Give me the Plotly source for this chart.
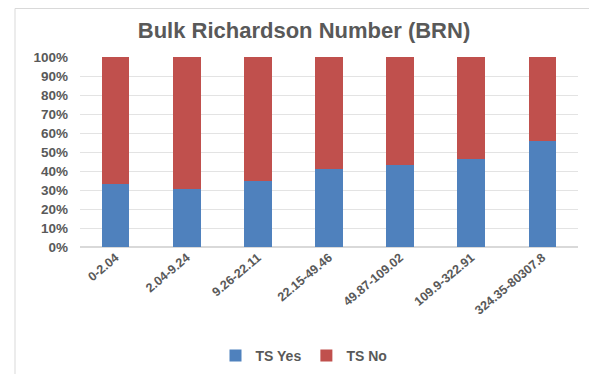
import plotly.graph_objects as go

categories = ["0-2.04", "2.04-9.24", "9.26-22.11", "22.15-49.46",
              "49.87-109.02", "109.9-322.91", "324.35-80307.8"]
ts_yes = [33.2, 30.4, 34.9, 41.0, 43.0, 46.3, 55.8]
ts_no = [66.8, 69.6, 65.1, 59.0, 57.0, 53.7, 44.2]
y_ticks = [0, 10, 20, 30, 40, 50, 60, 70, 80, 90, 100]

# page body has an 8px margin: screen pixel = figure pixel + 8
OFF = 8
W, H = 597, 374
PL, PR, PT, PB = 80, 578, 57, 247          # plot area in screen pixels
L, T = PL - OFF, PT - OFF
R, B = W - (PR - OFF), H - (PB - OFF)
pw, ph = W - L - R, H - T - B

def px_x(p):
    return (p - OFF - L) / pw

def px_y(p):
    return (H - B - (p - OFF)) / ph

gray = "#595959"
font_family = "Liberation Sans, Arial, sans-serif"

fig = go.Figure()
fig.add_trace(go.Bar(name="<b>TS Yes</b>", x=categories, y=ts_yes, marker_color="#4F81BD",
                     marker_line_width=0))
fig.add_trace(go.Bar(name="<b>TS No</b>", x=categories, y=ts_no, marker_color="#C0504D",
                     marker_line_width=0))

fig.update_layout(
    width=W, height=H,
    margin=dict(l=L, r=R, t=T, b=B, autoexpand=False),
    barmode="stack",
    bargap=0.61,
    paper_bgcolor="white",
    plot_bgcolor="white",
    font=dict(family=font_family, color=gray),
    title=dict(text="<b>Bulk Richardson Number (BRN)</b>",
               x=(304 - OFF) / W, xanchor="center", y=1 - (30 - OFF) / H, yanchor="middle",
               font=dict(size=22, color=gray, family=font_family)),
    showlegend=True,
    legend=dict(orientation="h", xanchor="center", x=px_x(304), yanchor="middle",
                y=px_y(356), font=dict(size=14, color=gray), itemwidth=30,
                traceorder="normal"),
    shapes=[dict(type="rect", xref="paper", yref="paper",
                 x0=px_x(15), x1=px_x(594), y0=px_y(390), y1=px_y(8.5),
                 line=dict(color="#D9D9D9", width=1), layer="below")],
)

fig.update_xaxes(
    tickangle=-40,
    tickvals=categories,
    ticktext=[f"<b>{c}</b>" for c in categories],
    tickfont=dict(size=12.5, color=gray, family=font_family),
    showgrid=False, showline=False, zeroline=False,
    automargin=False,
)
fig.update_yaxes(
    range=[0, 100],
    tickvals=y_ticks,
    ticktext=[f"<b>{v}%</b>" for v in y_ticks],
    tickfont=dict(size=13.5, color=gray, family=font_family),
    showgrid=True, gridcolor="#E3E3E3", gridwidth=1,
    zeroline=True, zerolinecolor="#D9D9D9",
    ticklabelstandoff=11,
    automargin=False,
)

fig.write_html("out.html")
